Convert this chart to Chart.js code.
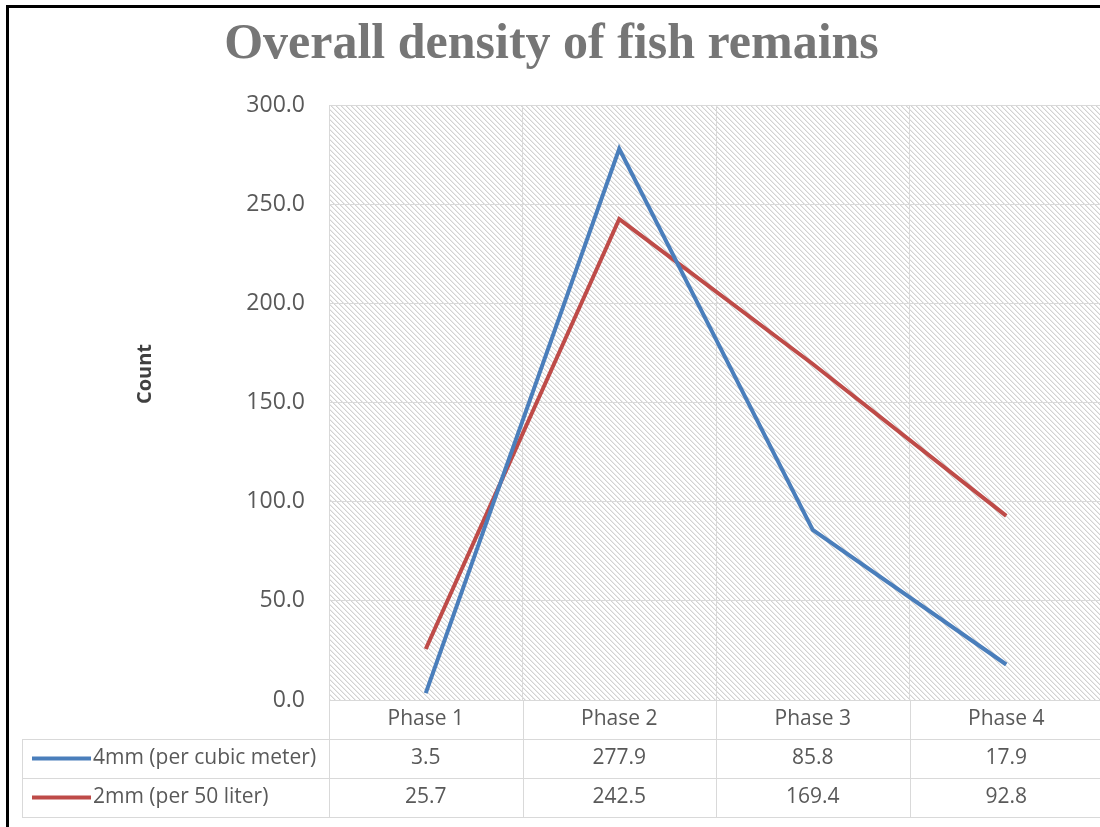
<!DOCTYPE html>
<html>
<head>
<meta charset="utf-8">
<title>Overall density of fish remains</title>
<script src="https://cdn.jsdelivr.net/npm/chart.js@4.4.1/dist/chart.umd.min.js"></script>
<style>
  html, body { margin: 0; padding: 0; background: #ffffff; overflow: hidden; width: 1100px; height: 827px; }
  #wrap { position: absolute; left: 0; top: 0; width: 1110px; height: 827px; }
  canvas { display: block; }
</style>
</head>
<body>
<div id="wrap"><canvas id="chart" width="1110" height="827"></canvas></div>
<script>
// Categories and series
const phases = ['Phase 1', 'Phase 2', 'Phase 3', 'Phase 4'];
const seriesNames = ['4mm (per cubic meter)', '2mm (per 50 liter)'];
const density4mm = [3.5, 277.9, 85.8, 17.9];
const density2mm = [25.7, 242.5, 169.4, 92.8];
const seriesColors = ['#4a7ebb', '#be4b48'];

// Value axis
const yMin = 0;
const yMax = 300;
const yStep = 50;

const chartTitle = 'Overall density of fish remains';
const yAxisTitle = 'Count';

const TEXT_GREY = '#595959';
const GRID_GREY = '#d9d9d9';
const BODY_FONT = '"Open Sans", "Noto Sans", sans-serif';

// Diagonal hatch tile used as the plot-area fill
function makeHatch(ctx) {
  const t = document.createElement('canvas');
  t.width = 5; t.height = 5;
  const g = t.getContext('2d');
  g.fillStyle = '#ffffff';
  g.fillRect(0, 0, 5, 5);
  for (let i = 0; i < 5; i++) {
    g.fillStyle = '#d2d2d2';
    g.fillRect(i, i, 1, 1);
    g.fillStyle = '#ebebeb';
    g.fillRect((i + 1) % 5, i, 1, 1);
  }
  return ctx.createPattern(t, 'repeat');
}

const rowH = 39;
const tableLeft = 22;

const decorPlugin = {
  id: 'decor',
  beforeDraw(chart) {
    const { ctx, chartArea: a } = chart;
    ctx.save();
    ctx.fillStyle = '#ffffff';
    ctx.fillRect(0, 0, chart.width, chart.height);
    ctx.fillStyle = makeHatch(ctx);
    ctx.fillRect(a.left, a.top, a.right - a.left, a.bottom - a.top);
    ctx.restore();
  },
  afterDraw(chart) {
    const { ctx, chartArea: a } = chart;
    const xs = chart.scales.x;
    const W = chart.width;
    const centers = phases.map((_, i) => xs.getPixelForValue(i));
    const half = (centers[1] - centers[0]) / 2;
    const top = a.bottom;
    ctx.save();

    // data table grid
    ctx.strokeStyle = GRID_GREY;
    ctx.lineWidth = 1;
    ctx.beginPath();
    for (let r = 1; r <= 3; r++) {
      const y = Math.round(top + r * rowH) + 0.5;
      ctx.moveTo(tableLeft, y);
      ctx.lineTo(W, y);
    }
    ctx.moveTo(tableLeft + 0.5, top + rowH);
    ctx.lineTo(tableLeft + 0.5, top + 3 * rowH);
    centers.forEach((c) => {
      const x = Math.round(c - half) + 0.5;
      ctx.moveTo(x, top);
      ctx.lineTo(x, top + 3 * rowH);
    });
    ctx.stroke();

    // header row and values
    ctx.fillStyle = TEXT_GREY;
    ctx.font = '21px ' + BODY_FONT;
    ctx.textAlign = 'center';
    ctx.textBaseline = 'middle';
    phases.forEach((p, i) => ctx.fillText(p, centers[i], top + rowH / 2));
    [density4mm, density2mm].forEach((vals, r) => {
      const y = top + rowH * (r + 1) + rowH / 2;
      vals.forEach((v, i) => ctx.fillText(v.toFixed(1), centers[i], y));
    });

    // legend keys in the table
    ctx.textAlign = 'left';
    seriesNames.forEach((name, r) => {
      const y = top + rowH * (r + 1) + rowH / 2;
      ctx.strokeStyle = seriesColors[r];
      ctx.lineWidth = 4;
      ctx.beginPath();
      ctx.moveTo(32, y);
      ctx.lineTo(91, y);
      ctx.stroke();
      ctx.fillStyle = TEXT_GREY;
      ctx.fillText(name, 93, y);
    });

    // value axis title
    ctx.save();
    ctx.translate(145, 374);
    ctx.rotate(-Math.PI / 2);
    ctx.fillStyle = '#404040';
    ctx.font = 'bold 20px ' + BODY_FONT;
    ctx.textAlign = 'center';
    ctx.textBaseline = 'middle';
    ctx.fillText(yAxisTitle, 0, 0);
    ctx.restore();

    // outer frame
    ctx.fillStyle = '#000000';
    ctx.fillRect(6, 5, W, 3);
    ctx.fillRect(6, 5, 3, chart.height);
    ctx.restore();
  }
};

new Chart(document.getElementById('chart'), {
  type: 'line',
  data: {
    labels: phases,
    datasets: [
      { label: seriesNames[0], data: density4mm, borderColor: seriesColors[0], backgroundColor: seriesColors[0] },
      { label: seriesNames[1], data: density2mm, borderColor: seriesColors[1], backgroundColor: seriesColors[1] }
    ]
  },
  options: {
    responsive: false,
    animation: false,
    events: [],
    layout: { padding: { left: 0, right: 7, top: 0, bottom: 0 } },
    elements: {
      line: { borderWidth: 4, tension: 0, borderCapStyle: 'butt', borderJoinStyle: 'miter' },
      point: { radius: 0 }
    },
    plugins: {
      legend: { display: false },
      tooltip: { enabled: false },
      title: {
        display: true,
        text: chartTitle,
        color: '#767676',
        font: { family: '"Liberation Serif", "DejaVu Serif", serif', size: 50, weight: 'bold', lineHeight: 1.2 },
        padding: { top: 15, bottom: 30 }
      }
    },
    scales: {
      x: {
        type: 'category',
        offset: true,
        grid: { offset: true, color: GRID_GREY, drawTicks: false },
        border: { display: false },
        ticks: { display: false },
        afterFit(scale) { scale.height = 127; }
      },
      y: {
        min: yMin,
        max: yMax,
        grid: { color: GRID_GREY, drawTicks: false },
        border: { color: GRID_GREY },
        ticks: {
          stepSize: yStep,
          padding: 24,
          color: TEXT_GREY,
          font: { family: BODY_FONT, size: 23 },
          callback: (v) => Number(v).toFixed(1)
        },
        afterFit(scale) { scale.width = 329; }
      }
    }
  },
  plugins: [decorPlugin]
});
</script>
</body>
</html>
